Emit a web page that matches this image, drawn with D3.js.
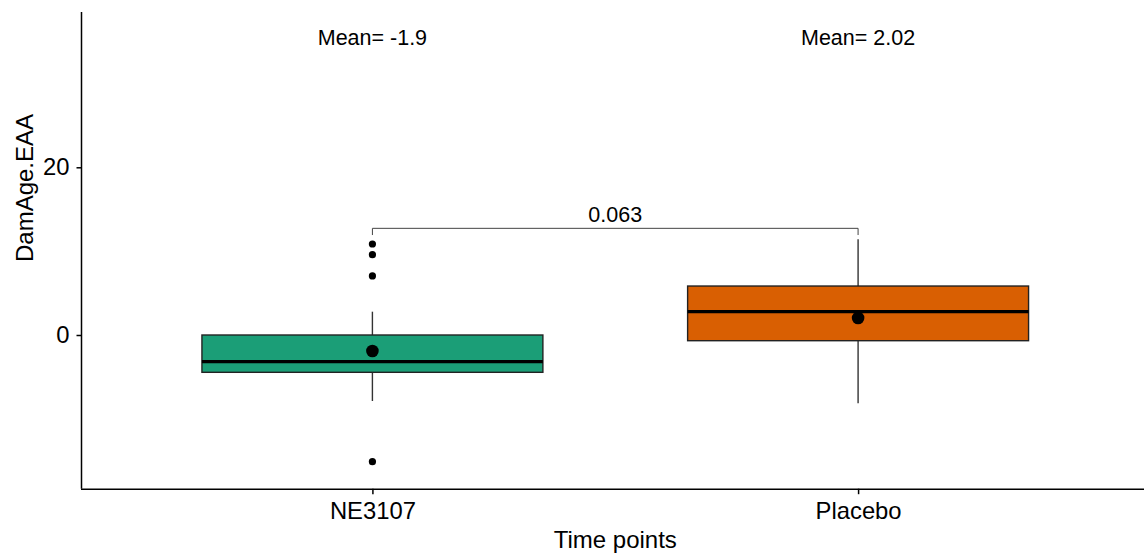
<!DOCTYPE html>
<html>
<head>
<meta charset="utf-8">
<script src="https://cdn.jsdelivr.net/npm/d3@7"></script>
<style>
  body { margin: 0; background: #fff; }
  text { font-family: "Liberation Sans", Arial, sans-serif; fill: #000; }
</style>
</head>
<body>
<svg id="chart"></svg>
<script>
// groups and box statistics
var groups = ["NE3107", "Placebo"];
var fills = ["#1B9E77", "#D95F02"];
var whiskerLow = [-7.87, -8.15];
var q1 = [-4.45, -0.68];
var median = [-3.18, 2.78];
var q3 = [0.0, 5.84];
var whiskerHigh = [2.78, 11.41];
var means = [-1.9, 2.02];
var meanLabels = ["Mean= -1.9", "Mean= 2.02"];
var outliers = [[10.85, 9.58, 7.04, -15.11], []];
var yTicks = [0, 20];
var pLabel = "0.063";
var bracketY = 12.72;
var meanLabelY = 34.6;

var w = 1144, h = 557;
var padLeft = 81, padRight = 1149.5, padTop = 12, padBottom = 488.7;

var svg = d3.select("#chart")
    .attr("width", w)
    .attr("height", h);

// discrete x: 0.6 unit padding on each side like ggplot
var x = d3.scalePoint()
    .domain(groups)
    .range([padLeft, padRight])
    .padding(0.6);

var y = d3.scaleLinear()
    .domain([-18.33, 38.52])
    .range([padBottom, padTop]);

var boxHalf = x.step() * 0.351;

var data = groups.map(function(g, i) {
    return {
        name: g, fill: fills[i], lo: whiskerLow[i], q1: q1[i], med: median[i],
        q3: q3[i], hi: whiskerHigh[i], mean: means[i], label: meanLabels[i],
        out: outliers[i]
    };
});

var boxes = svg.selectAll("g.box")
    .data(data)
    .enter().append("g")
    .attr("class", "box");

// whiskers
boxes.append("line")
    .attr("x1", function(d) { return x(d.name); })
    .attr("x2", function(d) { return x(d.name); })
    .attr("y1", function(d) { return y(d.q3); })
    .attr("y2", function(d) { return y(d.hi); })
    .attr("stroke", "#333")
    .attr("stroke-width", 1.4);

boxes.append("line")
    .attr("x1", function(d) { return x(d.name); })
    .attr("x2", function(d) { return x(d.name); })
    .attr("y1", function(d) { return y(d.q1); })
    .attr("y2", function(d) { return y(d.lo); })
    .attr("stroke", "#333")
    .attr("stroke-width", 1.4);

boxes.append("rect")
    .attr("x", function(d) { return x(d.name) - boxHalf; })
    .attr("width", boxHalf * 2)
    .attr("y", function(d) { return y(d.q3); })
    .attr("height", function(d) { return y(d.q1) - y(d.q3); })
    .attr("fill", function(d) { return d.fill; })
    .attr("stroke", "#222")
    .attr("stroke-width", 1.4);

boxes.append("line")
    .attr("x1", function(d) { return x(d.name) - boxHalf; })
    .attr("x2", function(d) { return x(d.name) + boxHalf; })
    .attr("y1", function(d) { return y(d.med); })
    .attr("y2", function(d) { return y(d.med); })
    .attr("stroke", "#000")
    .attr("stroke-width", 3.2);

// outliers
boxes.selectAll("circle.out")
    .data(function(d) { return d.out.map(function(v) { return { name: d.name, v: v }; }); })
    .enter().append("circle")
    .attr("class", "out")
    .attr("cx", function(d) { return x(d.name); })
    .attr("cy", function(d) { return y(d.v); })
    .attr("r", 3.6)
    .attr("fill", "#000");

// mean points
boxes.append("circle")
    .attr("cx", function(d) { return x(d.name); })
    .attr("cy", function(d) { return y(d.mean); })
    .attr("r", 6.3)
    .attr("fill", "#000");

// mean labels
boxes.append("text")
    .attr("x", function(d) { return x(d.name); })
    .attr("y", y(meanLabelY))
    .attr("text-anchor", "middle")
    .style("font-size", "21.5px")
    .text(function(d) { return d.label; });

// significance bracket
var x1 = x(groups[0]), x2 = x(groups[1]);
svg.append("path")
    .attr("d", "M" + x1 + "," + (y(bracketY) + 6.7) + "V" + y(bracketY) + "H" + x2 + "V" + (y(bracketY) + 6.7))
    .attr("fill", "none")
    .attr("stroke", "#444")
    .attr("stroke-width", 1);

svg.append("text")
    .attr("x", (x1 + x2) / 2)
    .attr("y", y(bracketY) - 6)
    .attr("text-anchor", "middle")
    .style("font-size", "21.5px")
    .text(pLabel);

// axes
var yAxis = svg.append("g")
    .attr("transform", "translate(" + padLeft + ",0)")
    .call(d3.axisLeft(y).tickValues(yTicks).tickSize(4.5).tickPadding(7).tickFormat(d3.format("d")));

var xAxis = svg.append("g")
    .attr("transform", "translate(0," + padBottom + ")")
    .call(d3.axisBottom(x).tickSize(5.5).tickPadding(8));

[yAxis, xAxis].forEach(function(a) {
    a.select(".domain").attr("stroke", "#000").attr("stroke-width", 1.5);
    a.selectAll(".tick line").attr("stroke", "#000").attr("stroke-width", 1.5);
    a.selectAll(".tick text").style("font-size", "23.8px").style("font-family", "Liberation Sans, Arial, sans-serif").attr("fill", "#000");
});
yAxis.select(".domain").attr("d", "M0.5," + padTop + "V" + padBottom);
xAxis.select(".domain").attr("d", "M" + padLeft + ",0.5H" + padRight);

// axis titles
svg.append("text")
    .attr("x", (padLeft + padRight) / 2)
    .attr("y", 548)
    .attr("text-anchor", "middle")
    .style("font-size", "24px")
    .text("Time points");

svg.append("text")
    .attr("transform", "translate(33,188) rotate(-90)")
    .attr("text-anchor", "middle")
    .style("font-size", "24px")
    .text("DamAge.EAA");
</script>
</body>
</html>
